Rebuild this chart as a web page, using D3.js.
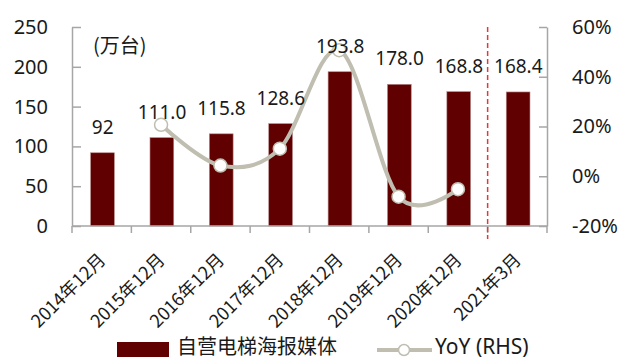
<!DOCTYPE html>
<html>
<head>
<meta charset="utf-8">
<script src="https://cdn.jsdelivr.net/npm/d3@7/dist/d3.min.js"></script>
<style>
  html, body { margin: 0; padding: 0; background: #fff; }
  svg { display: block; font-family: "Noto Sans CJK SC", "Noto Sans", sans-serif; }
</style>
</head>
<body>
<svg id="chart" width="632" height="360"></svg>
<script>
// Periods on the x axis
const periods = ["2014年12月", "2015年12月", "2016年12月", "2017年12月",
                 "2018年12月", "2019年12月", "2020年12月", "2021年3月"];
// Self-operated elevator poster media units (万台)
const units = [92, 111.0, 115.8, 128.6, 193.8, 178.0, 168.8, 168.4];
const unitDecimals = [0, 1, 1, 1, 1, 1, 1, 1];
// Year-over-year growth, % (right-hand scale)
const yoy = [null, 20.7, 4.3, 11.1, 50.7, -8.2, -5.2, null];
// Axis ticks
const leftTicks = [0, 50, 100, 150, 200, 250];
const rightTicks = [-20, 0, 20, 40, 60];

const svg = d3.select("#chart");
const plotL = 72, plotR = 547, plotT = 27, plotB = 226;

const x = d3.scaleBand().domain(periods).range([plotL, plotR]).padding(0);
const yL = d3.scaleLinear().domain([0, 250]).range([plotB, plotT]);
const yR = d3.scaleLinear().domain([-20, 60]).range([plotB, plotT]);

const axisColor = "#a6a6a6";
const barColor = "#600000";
const lineColor = "#bfbeb0";
const textColor = "#1a1a1a";

// Bars
const bw = x.bandwidth() * 0.4;
svg.append("g").selectAll("rect").data(units).join("rect")
  .attr("x", (d, i) => x(periods[i]) + x.bandwidth() / 2 - bw / 2 + 0.8)
  .attr("y", d => yL(d))
  .attr("width", bw)
  .attr("height", d => yL(0) - yL(d))
  .attr("fill", barColor)
  .attr("stroke", "#b88a8a")
  .attr("stroke-width", 0.6);

// Left axis
const gL = svg.append("g").attr("transform", `translate(${plotL},0)`)
  .call(d3.axisLeft(yL).tickValues(leftTicks).tickSizeInner(-9).tickSizeOuter(0).tickPadding(24));
gL.select(".domain").attr("stroke", axisColor).attr("stroke-width", 1.5);
gL.selectAll(".tick line").attr("stroke", axisColor).attr("stroke-width", 1.5);
gL.selectAll(".tick text").attr("font-size", 20).attr("fill", textColor)
  .attr("font-family", "'Noto Sans', sans-serif");

// Right axis
const gR = svg.append("g").attr("transform", `translate(${plotR},0)`)
  .call(d3.axisRight(yR).tickValues(rightTicks).tickFormat(d => d + "%")
    .tickSizeInner(-8).tickSizeOuter(0).tickPadding(25));
gR.select(".domain").attr("stroke", axisColor).attr("stroke-width", 1.5);
gR.selectAll(".tick line").attr("stroke", axisColor).attr("stroke-width", 1.5);
gR.selectAll(".tick text").attr("font-size", 20).attr("fill", textColor)
  .attr("font-family", "'Noto Sans', sans-serif");

// Bottom axis: ticks at category boundaries
const gB = svg.append("g");
gB.append("line").attr("x1", plotL).attr("x2", plotR).attr("y1", plotB).attr("y2", plotB)
  .attr("stroke", axisColor).attr("stroke-width", 1.5);
const bounds = periods.map(p => x(p)).concat([plotR]);
gB.selectAll("line.tk").data(bounds).join("line").attr("class", "tk")
  .attr("x1", d => d).attr("x2", d => d).attr("y1", plotB).attr("y2", plotB + 7)
  .attr("stroke", axisColor).attr("stroke-width", 1.5);
gB.selectAll("text").data(periods).join("text")
  .attr("transform", d => `translate(${x(d) + x.bandwidth() / 2 + 5},${plotB + 35}) rotate(-45)`)
  .attr("text-anchor", "end")
  .attr("font-size", 18)
  .attr("fill", textColor)
  .text(d => d);

// Divider before the latest quarter
svg.append("line")
  .attr("x1", x(periods[7])).attr("x2", x(periods[7]))
  .attr("y1", plotT).attr("y2", plotB + 13)
  .attr("stroke", "#e03a36").attr("stroke-width", 1.5)
  .attr("stroke-dasharray", "5,3");

// Unit caption
svg.append("text").attr("x", 93).attr("y", 53).attr("font-size", 20).attr("fill", textColor)
  .text("(万台)");

// YoY line
const pts = yoy.map((v, i) => ({ v, p: periods[i] })).filter(d => d.v !== null);
const line = d3.line()
  .x(d => x(d.p) + x.bandwidth() / 2)
  .y(d => yR(d.v))
  .curve(d3.curveCardinal.tension(0));
svg.append("path").datum(pts).attr("d", line)
  .attr("fill", "none").attr("stroke", lineColor).attr("stroke-width", 4);
svg.append("g").selectAll("circle").data(pts).join("circle")
  .attr("cx", d => x(d.p) + x.bandwidth() / 2)
  .attr("cy", d => yR(d.v))
  .attr("r", 6.5)
  .attr("fill", "#fff")
  .attr("stroke", lineColor).attr("stroke-width", 1.5);

// Value labels above bars
svg.append("g").selectAll("text").data(units).join("text")
  .attr("x", (d, i) => x(periods[i]) + x.bandwidth() / 2 + 1)
  .attr("y", d => yL(d) - 19)
  .attr("text-anchor", "middle")
  .attr("font-size", 19)
  .attr("font-family", "'Noto Sans', sans-serif")
  .attr("fill", textColor)
  .text((d, i) => d.toFixed(unitDecimals[i]));

// Legend
const lg = svg.append("g");
lg.append("rect").attr("x", 117).attr("y", 342).attr("width", 52).attr("height", 15).attr("fill", barColor);
lg.append("text").attr("x", 177).attr("y", 354).attr("font-size", 20).attr("fill", textColor)
  .text("自营电梯海报媒体");
lg.append("line").attr("x1", 377).attr("x2", 432).attr("y1", 350).attr("y2", 350)
  .attr("stroke", lineColor).attr("stroke-width", 4);
lg.append("circle").attr("cx", 404).attr("cy", 350).attr("r", 5.5)
  .attr("fill", "#fff").attr("stroke", lineColor).attr("stroke-width", 1.5);
lg.append("text").attr("x", 435).attr("y", 354).attr("font-size", 21).attr("fill", textColor)
  .attr("font-family", "'Noto Sans', sans-serif")
  .text("YoY (RHS)");
</script>
</body>
</html>
